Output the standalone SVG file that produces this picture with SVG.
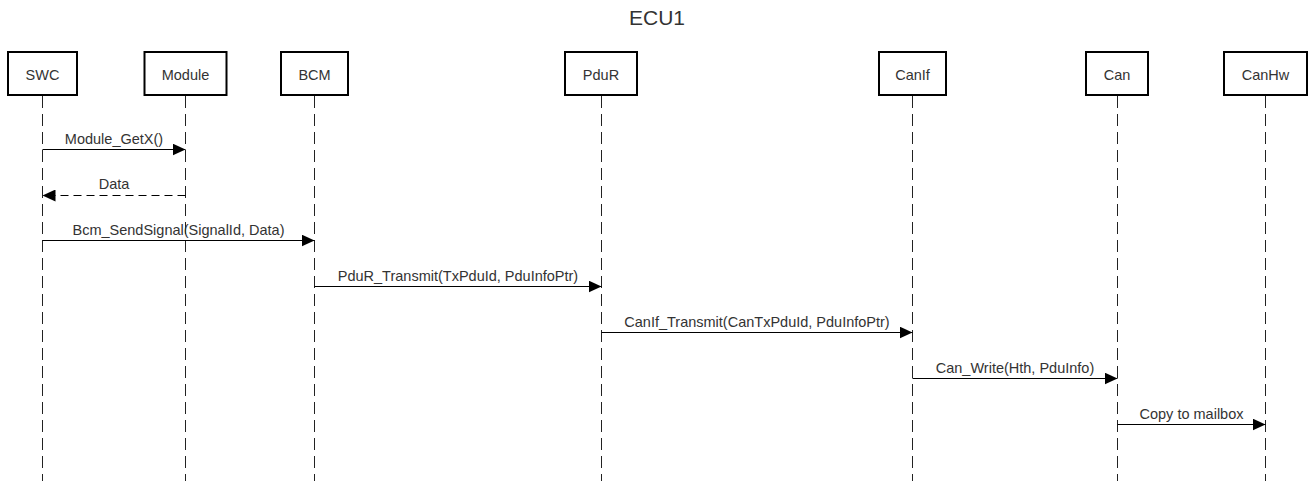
<svg xmlns="http://www.w3.org/2000/svg" width="1315" height="481" viewBox="0 0 1315 481">
<defs>
<style>
.box{fill:#fff;stroke:#000;stroke-width:2}
.life{stroke:#222;stroke-width:1;stroke-dasharray:12 6;fill:none}
.msg{stroke:#000;stroke-width:1;fill:none}
.ret{stroke:#000;stroke-width:1;fill:none;stroke-dasharray:8 5}
text{font-family:"Liberation Sans",Arial,sans-serif;fill:#333;text-anchor:middle}
.lbl{font-size:14.5px}
.title{font-size:21px}
</style>
<marker id="arr" markerUnits="userSpaceOnUse" markerWidth="14" markerHeight="12" refX="13" refY="6" orient="auto">
<path d="M0,0 L13,6 L0,12 z" fill="#000"/>
</marker>
</defs>
<rect width="1315" height="481" fill="#fff"/>
<text class="title" x="657" y="25">ECU1</text>
<g id="lifelines">
<line class="life" x1="42.5" y1="96" x2="42.5" y2="481"/>
<line class="life" x1="185.5" y1="96" x2="185.5" y2="481"/>
<line class="life" x1="314.5" y1="96" x2="314.5" y2="481"/>
<line class="life" x1="601.5" y1="96" x2="601.5" y2="481"/>
<line class="life" x1="912.5" y1="96" x2="912.5" y2="481"/>
<line class="life" x1="1117.5" y1="96" x2="1117.5" y2="481"/>
<line class="life" x1="1265.5" y1="96" x2="1265.5" y2="481"/>
</g>
<g id="SWC"><rect class="box" x="8" y="52" width="69" height="43"/><text class="lbl" x="42.5" y="79.5">SWC</text></g>
<g id="Module"><rect class="box" x="144.5" y="52" width="82" height="43"/><text class="lbl" x="185.5" y="79.5">Module</text></g>
<g id="BCM"><rect class="box" x="281" y="52" width="67" height="43"/><text class="lbl" x="314.5" y="79.5">BCM</text></g>
<g id="PduR"><rect class="box" x="565" y="52" width="72" height="43"/><text class="lbl" x="601" y="79.5">PduR</text></g>
<g id="CanIf"><rect class="box" x="879" y="52" width="67" height="43"/><text class="lbl" x="912.5" y="79.5">CanIf</text></g>
<g id="Can"><rect class="box" x="1086" y="52" width="62" height="43"/><text class="lbl" x="1117" y="79.5">Can</text></g>
<g id="CanHw"><rect class="box" x="1224" y="52" width="83" height="43"/><text class="lbl" x="1265.5" y="79.5">CanHw</text></g>
<g id="connectors">
<line class="msg" x1="42.5" y1="149.5" x2="185.5" y2="149.5" marker-end="url(#arr)"/>
<text class="lbl" x="114" y="143.5">Module_GetX()</text>
<line class="ret" x1="185.5" y1="195.5" x2="42.5" y2="195.5" marker-end="url(#arr)"/>
<text class="lbl" x="114" y="189">Data</text>
<line class="msg" x1="42.5" y1="240.5" x2="314.5" y2="240.5" marker-end="url(#arr)"/>
<text class="lbl" x="178.5" y="235">Bcm_SendSignal(SignalId, Data)</text>
<line class="msg" x1="314.5" y1="286.5" x2="601.5" y2="286.5" marker-end="url(#arr)"/>
<text class="lbl" x="458" y="281">PduR_Transmit(TxPduId, PduInfoPtr)</text>
<line class="msg" x1="601.5" y1="332.5" x2="912.5" y2="332.5" marker-end="url(#arr)"/>
<text class="lbl" x="757" y="327">CanIf_Transmit(CanTxPduId, PduInfoPtr)</text>
<line class="msg" x1="912.5" y1="378.5" x2="1117.5" y2="378.5" marker-end="url(#arr)"/>
<text class="lbl" x="1015" y="373">Can_Write(Hth, PduInfo)</text>
<line class="msg" x1="1117.5" y1="424.5" x2="1265.5" y2="424.5" marker-end="url(#arr)"/>
<text class="lbl" x="1191.5" y="419">Copy to mailbox</text>
</g>
</svg>
